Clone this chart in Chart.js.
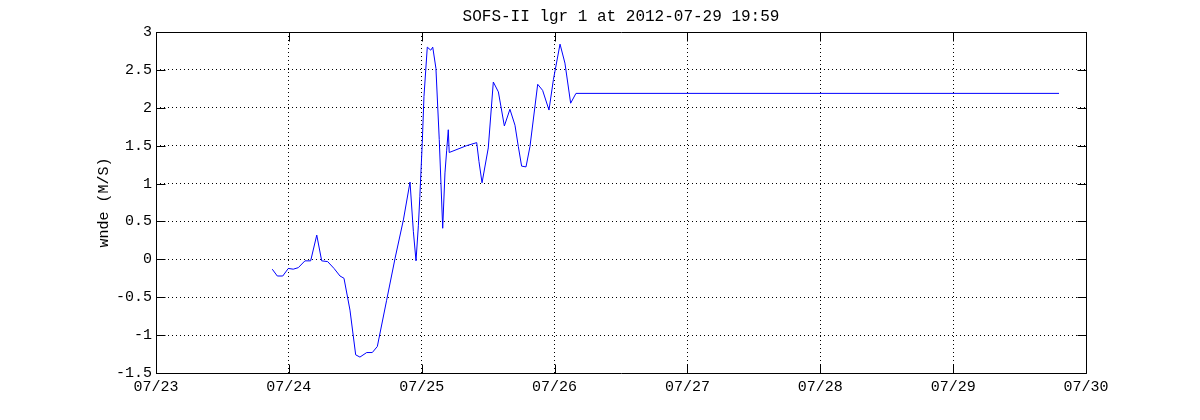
<!DOCTYPE html>
<html>
<head>
<meta charset="utf-8">
<script src="https://cdn.jsdelivr.net/npm/chart.js@4.4.1/dist/chart.umd.min.js"></script>
<style>
  html, body { margin: 0; padding: 0; background: #fff; }
  #wrap { width: 1200px; height: 420px; position: relative; }
</style>
</head>
<body>
<div id="wrap"><canvas id="c" width="1200" height="420"></canvas></div>
<script>
const chartTitle = 'SOFS-II lgr 1 at 2012-07-29 19:59';
const yAxisTitle = 'wnde (M/S)';
const xTickLabels = ['07/23', '07/24', '07/25', '07/26', '07/27', '07/28', '07/29', '07/30'];
const yTickLabels = ['-1.5', '-1', '-0.5', '0', '0.5', '1', '1.5', '2', '2.5', '3'];
// time in days since 07/23 00:00
const dayOffsets = [
  0.875, 0.913, 0.954, 0.996, 1.033, 1.071, 1.121, 1.164, 1.210, 1.247,
  1.292, 1.340, 1.385, 1.415, 1.460, 1.503, 1.535, 1.586, 1.628, 1.666,
  1.736, 1.799, 1.862, 1.912, 1.937, 1.957, 1.975, 1.986, 2.004, 2.017,
  2.042, 2.068, 2.083, 2.107, 2.132, 2.158, 2.175, 2.188, 2.200, 2.207,
  2.338, 2.414, 2.431, 2.454, 2.501, 2.539, 2.577, 2.622, 2.664, 2.702,
  2.727, 2.752, 2.785, 2.815, 2.873, 2.910, 2.958, 2.991, 3.041, 3.078,
  3.121, 3.161, 6.797
];
const wndeValues = [
  -0.13, -0.22, -0.22, -0.12, -0.13, -0.11, -0.02, -0.02, 0.32, -0.02,
  -0.03, -0.12, -0.22, -0.25, -0.67, -1.26, -1.29, -1.23, -1.23, -1.15,
  -0.54, 0.01, 0.52, 1.02, 0.37, -0.02, 0.45, 0.83, 1.53, 2.15,
  2.80, 2.76, 2.80, 2.52, 1.58, 0.41, 1.14, 1.44, 1.71, 1.41,
  1.50, 1.54, 1.29, 1.01, 1.47, 2.34, 2.21, 1.76, 1.98, 1.77,
  1.49, 1.23, 1.22, 1.49, 2.31, 2.23, 1.97, 2.37, 2.84, 2.59,
  2.06, 2.19, 2.19
];

const points = dayOffsets.map((d, i) => ({ x: d, y: wndeValues[i] }));
const MONO = '"Liberation Mono", "DejaVu Sans Mono", monospace';

const framePlugin = {
  id: 'frame',
  afterDatasetsDraw(chart) {
    const { ctx, chartArea, scales } = chart;
    const L = Math.round(chartArea.left) + 0.5, R = Math.round(chartArea.right) + 0.5;
    const T = Math.round(chartArea.top) + 0.5, B = Math.round(chartArea.bottom) + 0.5;
    const tl = 9;
    ctx.save();
    ctx.strokeStyle = '#000';
    ctx.lineWidth = 1;
    ctx.setLineDash([]);
    ctx.beginPath();
    ctx.rect(L, T, R - L, B - T);
    scales.x.ticks.forEach(t => {
      const px = Math.round(scales.x.getPixelForValue(t.value)) + 0.5;
      ctx.moveTo(px, B); ctx.lineTo(px, B - tl);
      ctx.moveTo(px, T); ctx.lineTo(px, T + tl);
    });
    scales.y.ticks.forEach(t => {
      const py = Math.round(scales.y.getPixelForValue(t.value)) + 0.5;
      ctx.moveTo(L, py); ctx.lineTo(L + tl, py);
      ctx.moveTo(R, py); ctx.lineTo(R - tl, py);
    });
    ctx.stroke();
    ctx.restore();
  }
};

new Chart(document.getElementById('c'), {
  type: 'line',
  data: {
    datasets: [{
      data: points,
      borderColor: '#0000ff',
      borderWidth: 1,
      pointRadius: 0,
      tension: 0,
      fill: false
    }]
  },
  options: {
    responsive: false,
    animation: false,
    devicePixelRatio: 1,
    layout: { padding: { left: 0, right: 114, top: 0, bottom: 0 } },
    plugins: {
      legend: { display: false },
      tooltip: { enabled: false },
      title: {
        display: true,
        text: chartTitle,
        fullSize: false,
        color: '#000',
        font: { family: MONO, size: 16, weight: 'normal' },
        padding: { top: 7, bottom: 5.8 }
      }
    },
    scales: {
      x: {
        type: 'linear',
        min: 0,
        max: 7,
        border: { display: false, dash: [1, 3] },
        grid: { color: '#000', drawTicks: false, lineWidth: 1 },
        ticks: {
          stepSize: 1,
          color: '#000',
          font: { family: MONO, size: 15 },
          padding: 5,
          maxRotation: 0,
          autoSkip: false,
          callback: (v) => xTickLabels[Math.round(v)]
        },
        afterFit: (s) => { s.height = 47; }
      },
      y: {
        type: 'linear',
        min: -1.5,
        max: 3,
        border: { display: false, dash: [1, 3] },
        grid: { color: '#000', drawTicks: false, lineWidth: 1 },
        ticks: {
          stepSize: 0.5,
          color: '#000',
          font: { family: MONO, size: 15 },
          padding: 4,
          autoSkip: false,
          callback: (v) => yTickLabels[Math.round((v + 1.5) * 2)]
        },
        title: {
          display: true,
          text: yAxisTitle,
          color: '#000',
          font: { family: MONO, size: 15 },
          padding: { top: 95, bottom: 0 }
        },
        afterFit: (s) => { s.width = 156; }
      }
    }
  },
  plugins: [framePlugin]
});
</script>
</body>
</html>
